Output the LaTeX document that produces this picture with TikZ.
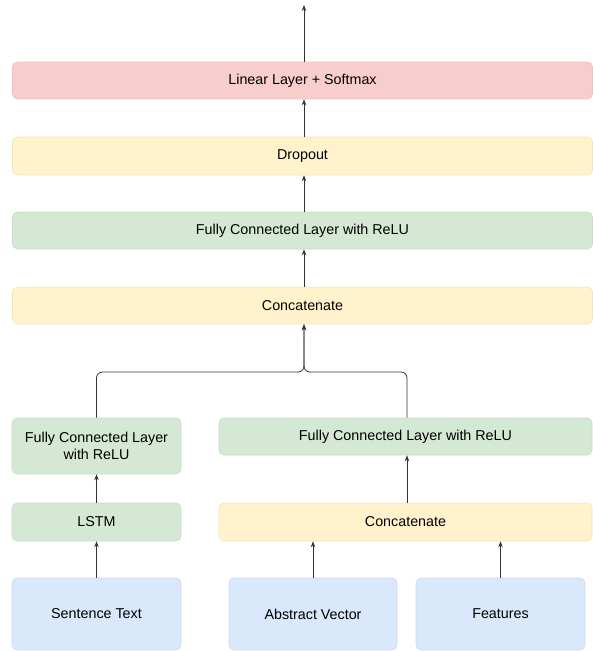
\documentclass[tikz,border=0pt]{standalone}
\usepackage{fontspec}
\setmainfont{Liberation Sans}
\usetikzlibrary{arrows.meta}
\definecolor{redf}{HTML}{F8CECC}
\definecolor{redd}{HTML}{EFC2C0}
\definecolor{yelf}{HTML}{FFF2CC}
\definecolor{yeld}{HTML}{F2E4BC}
\definecolor{grnf}{HTML}{D5E8D4}
\definecolor{grnd}{HTML}{C9DCC8}
\definecolor{bluf}{HTML}{DAE8FC}
\definecolor{blud}{HTML}{CCDAEE}
\definecolor{linec}{HTML}{333333}
\begin{document}
\begin{tikzpicture}[x=1pt,y=-1pt,
  box/.style={rounded corners=5pt, line width=0.6pt, inner sep=0pt, align=center,
    font=\fontsize{14.3}{17}\selectfont, text=black},
  redbox/.style={box, fill=redf, draw=redd},
  yelbox/.style={box, fill=yelf, draw=yeld},
  grnbox/.style={box, fill=grnf, draw=grnd},
  blubox/.style={box, fill=bluf, draw=blud},
  conn/.style={draw=linec, line width=0.8pt, -{Stealth[length=6pt,width=4.5pt]}}]
\useasboundingbox (0,0) rectangle (593,652);
% boxes
\node[redbox, minimum width=580pt, minimum height=37pt] (lin) at (302.5,80.5) {Linear Layer + Softmax};
\node[yelbox, minimum width=580pt, minimum height=38pt] (drop) at (302.5,156) {Dropout};
\node[grnbox, minimum width=580pt, minimum height=37pt] (fc) at (302.5,230.5) {Fully Connected Layer with ReLU};
\node[yelbox, minimum width=580pt, minimum height=37pt] (cat) at (302.5,305.5) {Concatenate};
\node[grnbox, minimum width=169pt, minimum height=56pt] (lfc) at (96.5,446) {Fully Connected Layer\\with ReLU};
\node[grnbox, minimum width=373pt, minimum height=37pt] (rfc) at (405.5,436.5) {Fully Connected Layer with ReLU};
\node[grnbox, minimum width=169pt, minimum height=38pt] (lstm) at (96.5,522) {LSTM};
\node[yelbox, minimum width=373pt, minimum height=38pt] (cat2) at (405.5,522) {Concatenate};
\node[blubox, minimum width=169pt, minimum height=72pt] (sent) at (96.5,614) {Sentence Text};
\node[blubox, minimum width=168pt, minimum height=72pt] (abs) at (313,614) {Abstract Vector};
\node[blubox, minimum width=169pt, minimum height=72pt] (feat) at (500.5,614) {Features};
% connectors
\coordinate (out) at (304,5);
\coordinate (jn) at (304,372);
\draw[conn] ([xshift=1.5pt]lin.north) -- (out);
\draw[conn] ([xshift=1.5pt]drop.north) -- ([xshift=1.5pt]lin.south);
\draw[conn] ([xshift=1.5pt]fc.north) -- ([xshift=1.5pt]drop.south);
\draw[conn] ([xshift=1.5pt]cat.north) -- ([xshift=1.5pt]fc.south);
\draw[conn, rounded corners=6pt] (lfc.north) |- (jn) -- ([xshift=1.5pt]cat.south);
\draw[conn, rounded corners=6pt] ([xshift=1.5pt]rfc.north) |- (jn) -- ([xshift=1.5pt]cat.south);
\draw[conn] (lstm.north) -- (lfc.south);
\draw[conn] (sent.north) -- (lstm.south);
\draw[conn] ([xshift=1.5pt]cat2.north) -- ([xshift=1.5pt]rfc.south);
\draw[conn] (abs.north) -- (abs.north |- cat2.south);
\draw[conn] (feat.north) -- (feat.north |- cat2.south);
\end{tikzpicture}
\end{document}
